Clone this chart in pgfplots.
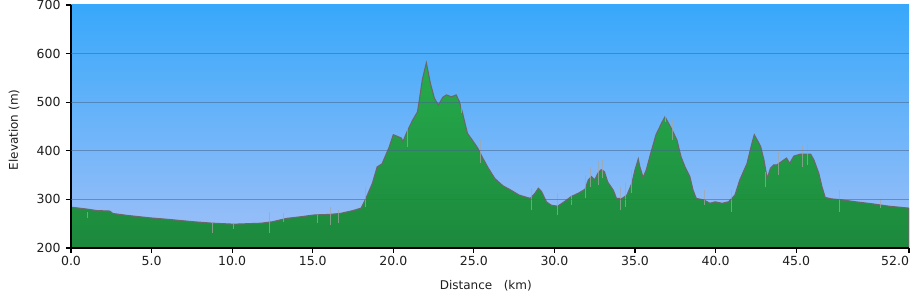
\documentclass[border=0pt]{standalone}
\usepackage{pgfplots}
\pgfplotsset{compat=1.18}
\usepackage{fontspec}
\setmainfont{DejaVu Sans}
\definecolor{bgtop}{RGB}{56,168,250}
\definecolor{bgbot}{RGB}{160,192,248}
\definecolor{gtop}{RGB}{38,172,76}
\definecolor{gbot}{RGB}{28,136,60}
\definecolor{gridc}{RGB}{70,100,140}
\definecolor{edge}{RGB}{105,105,105}
\definecolor{txt}{RGB}{30,30,30}
\begin{document}
\begin{tikzpicture}
\begin{axis}[
  scale only axis, width=838pt, height=243pt,
  xmin=0, xmax=52, ymin=200, ymax=700,
  axis x line*=bottom, axis y line*=left,
  axis line style={black, line width=1.6pt},
  tick style={black, line width=1.2pt},
  tick align=outside, major tick length=5pt,
  xtick={0,5,10,15,20,25,30,35,40,45,52},
  xticklabels={0.0,5.0,10.0,15.0,20.0,25.0,30.0,35.0,40.0,45.0,\makebox[0pt][r]{52.0}},
  ytick={200,300,400,500,600,700},
  yticklabels={200,300,400,500,600,700},
  extra y ticks={300,400,500,600},
  extra y tick labels={},
  extra y tick style={ymajorgrids=true, tick style={draw=none}},
  grid style={draw=gridc, opacity=0.55, line width=0.9pt},
  axis on top,
  axis background/.style={top color=bgtop, bottom color=bgbot},
  tick label style={font=\fontsize{12.5}{14}\selectfont, text=txt},
  yticklabel style={xshift=-2pt},
  label style={font=\fontsize{12}{14}\selectfont, text=txt},
  xlabel={Distance\ \ \ (km)},
  ylabel={Elevation (m)},
  xlabel style={at={(axis description cs:0.495,0)}, anchor=center, yshift=-38pt},
  ylabel style={at={(axis description cs:-0.068,0.486)}, anchor=center},
  clip=true,
]
\addplot[draw=edge, line width=1.1pt, top color=gtop, bottom color=gbot] coordinates {
(0.0,284) (0.5,282) (1.0,280) (1.6,277) (2.4,276) (2.6,271) (3.5,267) (4.9,262)
(6.0,259) (7.6,254) (8.8,251) (10.1,249) (11.0,250) (11.8,251) (12.5,254) (13.4,261)
(14.2,264) (15.1,268) (16.0,269) (16.7,271) (17.5,277) (18.0,282) (18.3,302) (18.7,333)
(19.0,367) (19.3,373) (19.75,408) (20.0,433) (20.3,429) (20.5,426) (20.6,419) (20.9,443)
(21.2,463) (21.5,480) (21.6,501) (21.8,546) (22.05,581) (22.3,539) (22.55,508) (22.8,494)
(23.07,510) (23.3,515) (23.6,511) (23.9,515) (24.1,501) (24.3,477) (24.6,436) (24.9,422)
(25.25,405) (25.55,385) (25.9,364) (26.3,343) (26.8,328) (27.3,319) (27.8,309) (28.5,302)
(28.8,313) (29.0,323) (29.2,316) (29.5,295) (29.8,288) (30.2,286) (30.6,295) (31.05,306)
(31.5,313) (31.9,321) (32.1,340) (32.3,347) (32.5,340) (32.7,354) (32.9,361) (33.1,357)
(33.3,336) (33.65,319) (33.85,302) (34.2,302) (34.5,309) (34.8,333) (35.0,361) (35.2,383)
(35.3,367) (35.5,345) (35.7,361) (36.0,398) (36.3,433) (36.65,457) (36.86,470) (37.07,457)
(37.3,443) (37.6,422) (37.85,388) (38.1,367) (38.4,347) (38.6,319) (38.8,302) (39.25,299)
(39.65,292) (39.97,295) (40.4,292) (40.8,295) (41.0,302) (41.2,309) (41.5,340) (41.95,374)
(42.25,415) (42.4,433) (42.7,415) (42.8,408) (43.0,381) (43.2,343) (43.4,364) (43.6,371)
(43.8,371) (44.1,378) (44.4,385) (44.6,374) (44.85,389) (45.25,393) (45.9,393) (46.1,381)
(46.4,354) (46.6,326) (46.8,304) (47.2,301) (47.85,299) (48.7,295) (49.7,291) (50.75,286)
(52.0,282)
} \closedcycle;
\addplot[draw=none, mark=none, forget plot,
  error bars/.cd, y dir=both, y explicit,
  error mark=none,
  error bar style={draw=gray!70, opacity=0.7, line width=0.9pt}] coordinates {
(1.04,268) +- (0,7)
(8.8,241) +- (0,10)
(10.1,244.5) +- (0,4.5)
(12.3,253) +- (0,22)
(13.2,262.5) +- (0,8.5)
(15.3,259.5) +- (0,8.5)
(16.1,266) +- (0,19)
(16.6,264.5) +- (0,13.5)
(18.3,305.5) +- (0,20.5)
(20.9,432.5) +- (0,24.5)
(24.2,491) +- (0,14)
(25.4,398.5) +- (0,23.5)
(28.6,300.5) +- (0,22.5)
(30.2,290.5) +- (0,22.5)
(31.05,297) +- (0,9)
(31.9,326) +- (0,24)
(32.25,346.5) +- (0,20.5)
(32.7,354) +- (0,24)
(33.0,362) +- (0,19)
(34.1,302) +- (0,24)
(34.4,309) +- (0,24)
(34.8,337) +- (0,24)
(36.86,474) +- (0,14)
(37.3,442.5) +- (0,20.5)
(39.3,303.5) +- (0,15.5)
(41.0,297) +- (0,22)
(43.1,341.5) +- (0,15.5)
(43.9,374) +- (0,24)
(45.4,389.5) +- (0,22.5)
(45.7,393) +- (0,22)
(47.7,297) +- (0,22)
(50.2,291) +- (0,9)
};
\end{axis}
\pgfresetboundingbox
\path[use as bounding box] ([xshift=-71pt,yshift=-48pt]current axis.south west) rectangle ++(913pt,296pt);
\end{tikzpicture}
\end{document}
